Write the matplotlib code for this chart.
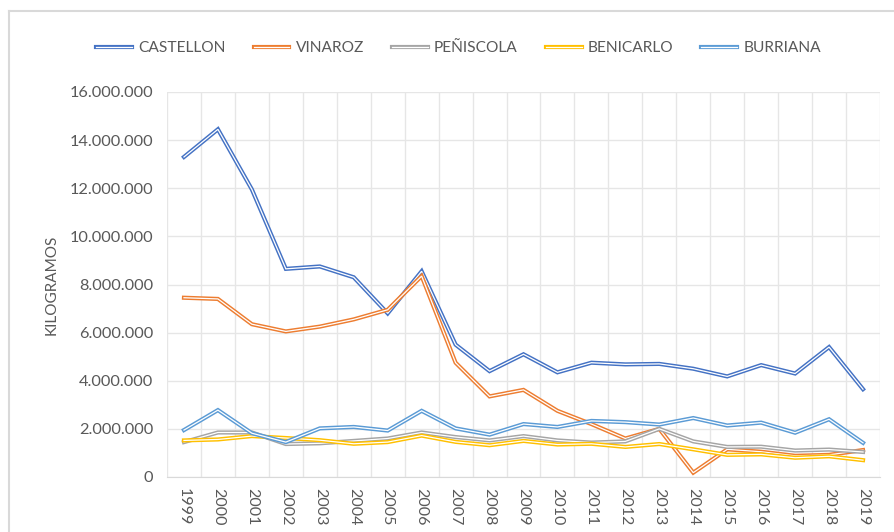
import matplotlib.pyplot as plt
import numpy as np
from matplotlib.lines import Line2D
from matplotlib.ticker import FuncFormatter, MultipleLocator

plt.rcParams["font.family"] = ["Lato", "DejaVu Sans"]

# ── Datos (kg) ────────────────────────────────────────────────────────────────
years = [str(y) for y in range(1999, 2020)]

castellon = [13.3, 14.45, 11.95, 8.65, 8.75, 8.3, 6.8, 8.55, 5.5, 4.4, 5.1,
             4.35, 4.75, 4.68, 4.7, 4.5, 4.18, 4.65, 4.3, 5.4, 3.65]
vinaroz = [7.45, 7.4, 6.35, 6.05, 6.25, 6.55, 6.95, 8.35, 4.75, 3.35, 3.62,
           2.75, 2.2, 1.6, 2.0, 0.18, 1.15, 1.05, 0.88, 0.92, 1.12]
peniscola = [1.45, 1.85, 1.85, 1.37, 1.4, 1.5, 1.6, 1.85, 1.66, 1.52, 1.7,
             1.52, 1.43, 1.48, 2.0, 1.48, 1.25, 1.26, 1.1, 1.14, 1.04]
benicarlo = [1.52, 1.56, 1.7, 1.62, 1.53, 1.38, 1.45, 1.72, 1.46, 1.32, 1.5,
             1.35, 1.38, 1.25, 1.37, 1.15, 0.92, 0.94, 0.8, 0.86, 0.7]
burriana = [1.95, 2.78, 1.82, 1.45, 2.02, 2.08, 1.93, 2.75, 2.02, 1.76, 2.2,
            2.08, 2.33, 2.28, 2.18, 2.45, 2.14, 2.26, 1.84, 2.4, 1.42]

series = [
    ("CASTELLON", castellon, "#4472C4"),
    ("VINAROZ", vinaroz, "#ED7D31"),
    ("PEÑISCOLA", peniscola, "#A5A5A5"),
    ("BENICARLO", benicarlo, "#FFC000"),
    ("BURRIANA", burriana, "#5B9BD5"),
]

TXT = "#595959"
GRID = "#e6e6e6"

fig = plt.figure(figsize=(8.94, 5.32), dpi=100)
ax = fig.add_axes([167 / 894, 55 / 532, 713 / 894, 385 / 532])

x = np.arange(len(years))
handles = []
for name, vals, col in series:
    v = np.array(vals) * 1e6
    ax.plot(x, v, color=col, lw=3.0, solid_joinstyle="miter", zorder=3)
    ax.plot(x, v, color="white", lw=0.9, solid_joinstyle="miter", zorder=3)
    h1 = Line2D([], [], color=col, lw=3.0)
    h2 = Line2D([], [], color="white", lw=0.9)
    handles.append(((h1, h2), name))

ax.set_xlim(-0.5, len(years) - 0.5)
ax.set_ylim(0, 16e6)
ax.yaxis.set_major_locator(MultipleLocator(2e6))
ax.yaxis.set_major_formatter(
    FuncFormatter(lambda v, _: f"{int(v):,}".replace(",", ".")))

ax.set_xticks(x)
ax.set_xticklabels(years, rotation=-90)
ax.set_xticks(np.arange(-0.5, len(years)), minor=True)
ax.tick_params(axis="x", which="major", length=0, pad=8, labelsize=11.5,
               colors=TXT)
ax.tick_params(axis="x", which="minor", length=0)
ax.tick_params(axis="y", length=0, pad=10, labelsize=11.8, colors=TXT)

ax.grid(axis="y", which="major", color=GRID, lw=1)
ax.grid(axis="x", which="minor", color=GRID, lw=1)
for s in ["top", "right", "left"]:
    ax.spines[s].set_visible(False)
ax.spines["bottom"].set_color("#d9d9d9")

ax.set_ylabel("KILOGRAMOS", color=TXT, fontsize=11, labelpad=8)

fig.legend([h for h, _ in handles], [n for _, n in handles],
           loc="center", bbox_to_anchor=(0.513, 1 - 48 / 532), ncol=5,
           frameon=False, fontsize=11.2, labelcolor=TXT,
           handlelength=2.3, handletextpad=0.4, columnspacing=1.8)

# marco del gráfico
fig.add_artist(Line2D([9 / 894, 9 / 894], [0, 1 - 11 / 532],
                      transform=fig.transFigure, color="#d9d9d9", lw=1.5))
fig.add_artist(Line2D([9 / 894, 1], [1 - 11 / 532, 1 - 11 / 532],
                      transform=fig.transFigure, color="#d9d9d9", lw=1.5))

fig.savefig("out.png", dpi=100)
